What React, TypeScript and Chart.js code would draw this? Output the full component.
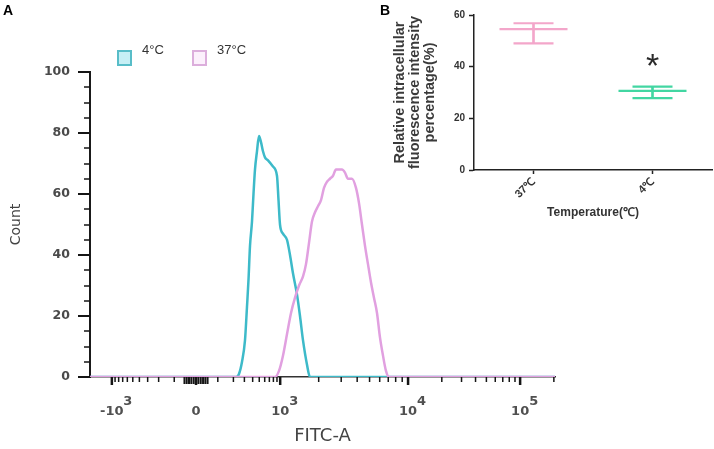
import React, { useEffect, useRef } from "react";
import { Chart, registerables } from "chart.js";

Chart.register(...registerables);

// ---------- Panel A : FITC-A histogram (x in display channels 0–1000) ----------
const channel4C = [0, 314.0, 320.4, 326.9, 333.3, 337.6, 340.9, 344.1, 348.4, 351.6, 354.8, 359.1, 363.4, 367.7, 372.0, 376.3, 382.8, 393.5, 402.1, 405.4, 408.6, 415.0, 423.6, 430.1, 436.5, 445.2, 451.6, 458.1, 466.7, 473.1, 1000];
const count4C = [0, 0, 1, 5, 12, 23, 32, 43, 51, 60, 68, 74, 79, 77, 74, 72, 71, 69, 66, 58, 50, 47, 45, 40, 34, 27, 20, 12, 4, 0, 0];

const channel37C = [0, 397.8, 406.4, 415.0, 423.6, 432.3, 440.9, 449.5, 458.1, 464.5, 471.0, 477.4, 483.9, 490.3, 496.8, 503.2, 509.7, 516.1, 522.6, 529.0, 535.5, 541.9, 548.4, 554.8, 563.4, 572.0, 578.5, 584.9, 591.4, 597.8, 604.3, 610.7, 617.2, 623.6, 630.1, 636.5, 643.0, 1000];
const count37C = [0, 0, 2, 7, 14, 21, 26, 30, 33, 37, 44, 51, 54, 56, 58, 62, 64, 65, 66, 68, 68, 68, 67, 65, 65, 62, 57, 50, 43, 37, 31, 26, 21, 13, 7, 2, 0, 0];

const seriesLabelsA = ["4°C", "37°C"];
const xTickValues = [-1000, 0, 1000, 10000, 100000];
const xTickLabels = ["-10³", "0", "10³", "10⁴", "10⁵"];
const yTicksA = { min: 0, max: 100, major: 20, minor: 5 };

// ---------- Panel B : relative fluorescence ----------
const categoriesB = ["37℃", "4℃"];
const meanB = [54.5, 30.6];
const upperB = [56.8, 32.3];
const lowerB = [49.0, 27.8];
const sigCategory = ["4℃"];
const sigHeight = [42.6];
const sigSymbol = ["*"];

const CYAN = "#3dbac9";
const PINK_A = "#e1a0e0";
const PINK_B = "#f3a6ca";
const GREEN_B = "#42d6a2";

// biexponential-style display transform (value -> channel)
function fitcToChannel(v: number): number {
  const C = 130;
  if (Math.abs(v) <= 1000) {
    return 228 + Math.sign(v) * 181 * Math.asinh(Math.abs(v) / C) / Math.asinh(1000 / C);
  }
  if (v <= 10000) return 409 + (Math.log10(v) - 3) * 275;
  return 684 + (Math.log10(v) - 4) * 241;
}

const supMap: Record<string, string> = { "³": "3", "⁴": "4", "⁵": "5" };
function formatDecadeLabel(s: string): string[] {
  const m = s.match(/^(-?10)([³⁴⁵])$/);
  if (!m) return ["", s];
  const pad = m[1].startsWith("-") ? 7 : 6;
  return [" ".repeat(pad) + supMap[m[2]], m[1]];
}

const flowTicksPlugin = {
  id: "flowTicks",
  afterDraw(chart: any) {
    const { ctx, chartArea, scales } = chart;
    const x = scales.x;
    const y = scales.y;
    ctx.save();
    ctx.strokeStyle = "#151515";
    for (let v = yTicksA.min; v <= yTicksA.max; v += yTicksA.minor) {
      const py = Math.round(y.getPixelForValue(v));
      const major = v % yTicksA.major === 0;
      ctx.lineWidth = major ? 2 : 1.5;
      ctx.beginPath();
      ctx.moveTo(chartArea.left - (major ? 12 : 6), py);
      ctx.lineTo(chartArea.left, py);
      ctx.stroke();
    }
    const minor: number[] = [];
    for (let k = 1; k <= 9; k++) minor.push(100 * k, -100 * k);
    for (const d of [1000, 10000, 100000]) for (let k = 2; k <= 9; k++) minor.push(k * d);
    const nearZero: number[] = [];
    for (let k = 1; k <= 5; k++) nearZero.push(10 * k, -10 * k);
    const drawX = (v: number, len: number, w: number) => {
      const c = fitcToChannel(v);
      if (c < 0 || c > 1000) return;
      const px = x.getPixelForValue(c);
      ctx.lineWidth = w;
      ctx.beginPath();
      ctx.moveTo(px, chartArea.bottom);
      ctx.lineTo(px, chartArea.bottom + len);
      ctx.stroke();
    };
    minor.forEach((v) => drawX(v, 5, 1.5));
    nearZero.forEach((v) => drawX(v, 7, 2));
    xTickValues.forEach((v) => drawX(v, 8, 2.5));
    ctx.restore();
  },
};

const significancePlugin = {
  id: "significance",
  afterDatasetsDraw(chart: any) {
    const { ctx, scales } = chart;
    ctx.save();
    ctx.fillStyle = "#2a2a2a";
    ctx.font = '34px "Liberation Sans", Arial, sans-serif';
    ctx.textAlign = "center";
    ctx.textBaseline = "alphabetic";
    sigCategory.forEach((cat, i) => {
      const px = scales.x.getPixelForValue(categoriesB.indexOf(cat));
      const py = scales.y.getPixelForValue(sigHeight[i]);
      const m = ctx.measureText(sigSymbol[i]);
      const asc = m.actualBoundingBoxAscent || 24;
      const desc = m.actualBoundingBoxDescent || -14;
      ctx.fillText(sigSymbol[i], px, py + (asc - desc) / 2);
    });
    ctx.restore();
  },
};

export default function App() {
  const refA = useRef<HTMLCanvasElement | null>(null);
  const refB = useRef<HTMLCanvasElement | null>(null);

  useEffect(() => {
    const chartA = new Chart(refA.current as HTMLCanvasElement, {
      type: "line",
      data: {
        datasets: [
          {
            label: seriesLabelsA[1],
            data: channel37C.map((c, i) => ({ x: c, y: count37C[i] })),
            borderColor: PINK_A,
            borderWidth: 2.5,
            pointRadius: 0,
            cubicInterpolationMode: "monotone",
            fill: false,
          },
          {
            label: seriesLabelsA[0],
            data: channel4C.map((c, i) => ({ x: c, y: count4C[i] })),
            borderColor: CYAN,
            borderWidth: 2.5,
            pointRadius: 0,
            cubicInterpolationMode: "monotone",
            fill: false,
          },
        ],
      },
      options: {
        responsive: false,
        animation: false,
        events: [],
        layout: { autoPadding: false, padding: { top: 72, right: 5, left: 0, bottom: 0 } },
        plugins: { legend: { display: false }, tooltip: { enabled: false } },
        scales: {
          x: {
            type: "linear",
            min: 0,
            max: 1000,
            afterFit: (s: any) => {
              s.height = 72;
            },
            afterBuildTicks: (s: any) => {
              s.ticks = xTickValues.map((v) => ({ value: fitcToChannel(v) }));
            },
            grid: { display: false, drawTicks: false },
            border: { display: true, color: "#333", width: 1.5 },
            ticks: {
              autoSkip: false,
              maxRotation: 0,
              minRotation: 0,
              padding: 20,
              color: "#505050",
              font: { family: "DejaVu Sans", weight: "bold", size: 13, lineHeight: "10px" },
              callback: (_v: any, i: number) => formatDecadeLabel(xTickLabels[i]),
            },
            title: {
              display: true,
              text: "FITC-A",
              color: "#444",
              font: { family: "DejaVu Sans", size: 18 },
              padding: { top: 0, bottom: 2 },
            },
          },
          y: {
            min: yTicksA.min,
            max: yTicksA.max,
            afterFit: (s: any) => {
              s.width = 90;
            },
            grid: { display: false, drawTicks: false },
            border: { display: true, color: "#1a1a1a", width: 2 },
            ticks: {
              stepSize: yTicksA.major,
              padding: 20,
              color: "#4a4a4a",
              font: { family: "DejaVu Sans", weight: "bold", size: 12.5 },
            },
            title: {
              display: true,
              text: "Count",
              color: "#444",
              font: { family: "DejaVu Sans", size: 14 },
              padding: { top: 8, bottom: 0 },
            },
          },
        },
      } as any,
      plugins: [flowTicksPlugin],
    });

    const groupColors = [PINK_B, GREEN_B];
    const pointSet = (label: string, data: number[], radius: number) => ({
      type: "line" as const,
      label,
      data,
      showLine: false,
      pointStyle: "line",
      pointRadius: radius,
      pointBorderWidth: 2.2,
      pointBorderColor: groupColors,
      pointBackgroundColor: groupColors,
      borderColor: groupColors,
    });
    const chartB = new Chart(refB.current as HTMLCanvasElement, {
      type: "bar",
      data: {
        labels: categoriesB,
        datasets: [
          pointSet("Mean", meanB, 34),
          pointSet("Upper", upperB, 20),
          pointSet("Lower", lowerB, 20),
          {
            type: "bar" as const,
            label: "Range",
            data: lowerB.map((l, i) => [l, upperB[i]]),
            backgroundColor: groupColors,
            borderWidth: 0,
            barThickness: 2,
          },
        ] as any,
      },
      options: {
        responsive: false,
        animation: false,
        events: [],
        layout: { autoPadding: false, padding: { top: 15, right: 2, left: 0, bottom: 0 } },
        plugins: { legend: { display: false }, tooltip: { enabled: false } },
        scales: {
          x: {
            offset: true,
            afterFit: (s: any) => {
              s.height = 60;
            },
            grid: {
              display: true,
              drawOnChartArea: false,
              offset: false,
              drawTicks: true,
              tickLength: 4,
              color: "#222",
              tickWidth: 1.5,
            },
            border: { display: true, color: "#222", width: 1.5 },
            ticks: {
              minRotation: 45,
              maxRotation: 45,
              padding: 1,
              color: "#333",
              font: { family: "Liberation Sans", weight: "bold", size: 11 },
            },
            title: {
              display: true,
              text: "Temperature(℃)",
              color: "#333",
              font: { family: "Liberation Sans", weight: "bold", size: 12 },
              padding: { top: 0, bottom: 10 },
            },
          },
          y: {
            min: 0,
            max: 60,
            afterFit: (s: any) => {
              s.width = 104;
            },
            grid: {
              display: true,
              drawOnChartArea: false,
              drawTicks: true,
              tickLength: 5,
              color: "#222",
              tickWidth: 1.5,
            },
            border: { display: true, color: "#222", width: 1.5 },
            ticks: {
              stepSize: 20,
              padding: 4,
              color: "#333",
              font: { family: "Liberation Sans", weight: "bold", size: 10 },
            },
            title: {
              display: true,
              text: ["Relative intracellular", "fluorescence intensity", "percentage(%)"],
              color: "#3a3a3a",
              font: { family: "Liberation Sans", weight: "bold", size: 14.5, lineHeight: "15px" },
              padding: { top: 22, bottom: 0 },
            },
          },
        },
      } as any,
      plugins: [significancePlugin],
    });

    return () => {
      chartA.destroy();
      chartB.destroy();
    };
  }, []);

  const labelStyle: React.CSSProperties = {
    position: "absolute",
    font: 'bold 14px "Liberation Sans", Arial, sans-serif',
    lineHeight: "14px",
    color: "#000",
  };
  const legendText: React.CSSProperties = {
    position: "absolute",
    top: 43,
    font: '13px "Liberation Sans", Arial, sans-serif',
    lineHeight: "13px",
    color: "#333",
    whiteSpace: "nowrap",
  };
  const box = (left: number, border: string, bg: string): React.CSSProperties => ({
    position: "absolute",
    left,
    top: 50,
    width: 15,
    height: 16,
    boxSizing: "border-box",
    border: `2px solid ${border}`,
    background: bg,
  });

  return (
    <div
      style={{
        position: "fixed",
        left: 0,
        top: 0,
        width: 714,
        height: 449,
        background: "#fff",
        overflow: "hidden",
      }}
    >
      <canvas ref={refA} width={560} height={449} style={{ position: "absolute", left: 0, top: 0 }} />
      <canvas ref={refB} width={344} height={230} style={{ position: "absolute", left: 370, top: 0 }} />
      <div style={{ ...labelStyle, left: 3, top: 3 }}>A</div>
      <div style={{ ...labelStyle, left: 380, top: 3 }}>B</div>
      <div style={box(117, "#58bdc8", "#c6eff5")} />
      <div style={{ ...legendText, left: 142 }}>{seriesLabelsA[0]}</div>
      <div style={box(192, "#dcaedc", "#fcf0fc")} />
      <div style={{ ...legendText, left: 217 }}>{seriesLabelsA[1]}</div>
    </div>
  );
}
